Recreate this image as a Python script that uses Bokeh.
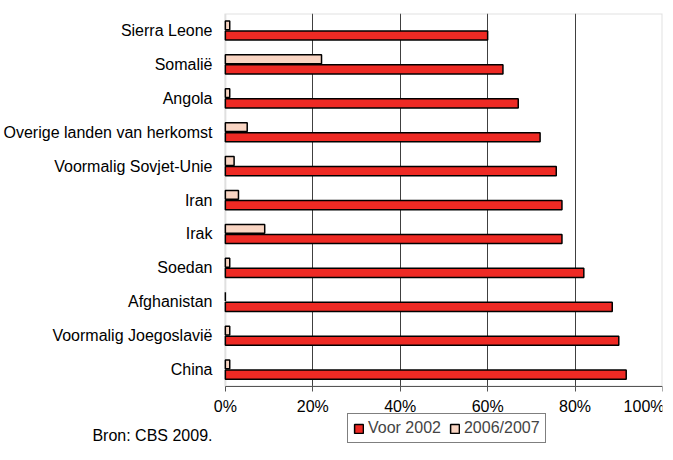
import numpy as np
from bokeh.plotting import figure
from bokeh.models import (Range1d, NumeralTickFormatter, FixedTicker, Legend, LegendItem,
                          ColumnDataSource, BoxAnnotation)
from bokeh.embed import file_html
from bokeh.resources import INLINE

categories = ["Sierra Leone", "Somalië", "Angola", "Overige landen van herkomst",
              "Voormalig Sovjet-Unie", "Iran", "Irak", "Soedan", "Afghanistan",
              "Voormalig Joegoslavië", "China"]
voor_2002 = [0.60, 0.635, 0.67, 0.72, 0.757, 0.77, 0.77, 0.82, 0.885, 0.90, 0.917]
jaren_2006_2007 = [0.01, 0.22, 0.01, 0.05, 0.02, 0.03, 0.09, 0.01, 0.0, 0.01, 0.01]
x_ticks = [0, 0.2, 0.4, 0.6, 0.8, 1.0]
series_names = ["Voor 2002", "2006/2007"]
source_note = "Bron: CBS 2009."

RED = "#EE2A24"
PINK = "#F9D5C3"
FONT = "Liberation Sans"
GRAY = "#999999"

n = len(categories)
ypos = np.arange(n, 0, -1).astype(float)          # first category on top
band_px = 373 / n                                  # pixel height of one category band
frame_h = 431
y_bottom = 0.5 - (frame_h - 373) / band_px        # room below the bars for legend + note
note_y = -0.945
x_start = -13 / 442                                # small room so the "0%" label is not clipped

src = ColumnDataSource(dict(cat=categories, voor=voor_2002, na=jaren_2006_2007,
                            y_voor=ypos - 0.15, y_na=ypos + 0.15))

p = figure(width=664, height=444, output_backend="svg", toolbar_location=None,
           x_range=Range1d(x_start, 1), y_range=Range1d(y_bottom, n + 0.5),
           min_border_left=207, min_border_right=2, min_border_top=13, min_border_bottom=0)

p.xgrid.ticker = FixedTicker(ticks=[0.2, 0.4, 0.6, 0.8])
p.xgrid.grid_line_color = "#404040"
p.ygrid.grid_line_color = None
p.outline_line_color = None

# border of the bar area
border = BoxAnnotation(left=0, right=1, bottom=0.5, top=n + 0.5, fill_alpha=0,
                       line_color=GRAY, line_width=2, level="underlay")
p.add_layout(border)

r_voor = p.hbar(y="y_voor", right="voor", left=0, height=0.27, source=src,
                fill_color=RED, line_color="black", line_width=1.5)
r_na = p.hbar(y="y_na", right="na", left=0, height=0.26, source=src,
              fill_color=PINK, line_color="black", line_width=1.5)

# white cover below the bar area (hides grid lines there)
cover = BoxAnnotation(top=0.5, fill_color="white", fill_alpha=1, line_color=None, level="glyph")
p.add_layout(cover)

p.xaxis.fixed_location = 0.5
p.xaxis.bounds = (0, 1)
p.xaxis.ticker = FixedTicker(ticks=x_ticks)
p.xaxis.formatter = NumeralTickFormatter(format="0%")
p.xaxis.major_label_text_font = FONT
p.xaxis.major_label_text_font_size = "16px"
p.xaxis.major_label_text_color = "black"
p.xaxis.axis_line_color = "#555555"
p.xaxis.major_tick_line_color = "#555555"
p.xaxis.major_tick_out = 5
p.xaxis.major_tick_in = 0
p.xaxis.minor_tick_line_color = None
p.xaxis.major_label_standoff = 6

overrides = {float(y): c for y, c in zip(ypos, categories)}
overrides[note_y] = source_note
p.yaxis.ticker = FixedTicker(ticks=list(ypos) + [note_y])
p.yaxis.major_label_overrides = overrides
p.yaxis.major_label_text_font = FONT
p.yaxis.major_label_text_font_size = "16px"
p.yaxis.major_label_text_color = "black"
p.yaxis.axis_line_color = None
p.yaxis.major_tick_line_color = None
p.yaxis.major_tick_out = 0
p.yaxis.major_tick_in = 0
p.yaxis.minor_tick_line_color = None
p.yaxis.major_label_standoff = 0

legend = Legend(items=[LegendItem(label=series_names[0], renderers=[r_voor]),
                       LegendItem(label=series_names[1], renderers=[r_na])],
                orientation="horizontal", location=(135, 1),
                glyph_width=11, glyph_height=11, label_standoff=4, spacing=8,
                padding=5, margin=0, label_height=16,
                label_text_font=FONT, label_text_font_size="16px",
                border_line_color="black", border_line_width=1,
                background_fill_alpha=1)
p.add_layout(legend, "center")

open("out.html", "w").write(file_html(p, INLINE))
